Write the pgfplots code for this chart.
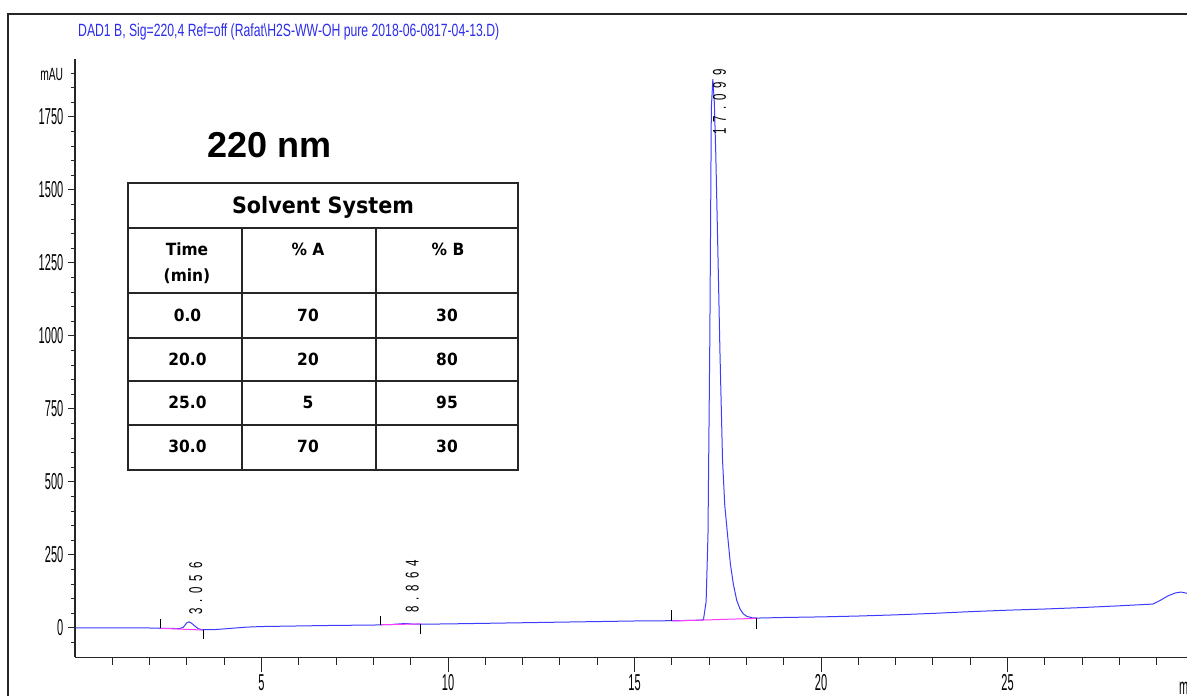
\documentclass[border=0pt]{standalone}
\usepackage{fontspec}
\setmainfont{Liberation Sans}
\usepackage{pgfplots}
\pgfplotsset{compat=1.18}
\newfontfamily\tickfont[FakeStretch=0.48]{Liberation Sans}
\newfontfamily\maufont[FakeStretch=0.58]{Liberation Sans}
\newfontfamily\titlefont[FakeStretch=0.69]{Liberation Sans}
\newfontfamily\pkfont[FakeStretch=0.62]{Liberation Sans}
\newfontfamily\tabfont[FakeStretch=0.92]{DejaVu Sans}
\definecolor{sig}{RGB}{60,60,255}
\definecolor{ttl}{RGB}{45,45,235}
\definecolor{bl}{RGB}{255,60,255}
\begin{document}
\begin{tikzpicture}[x=1pt,y=1pt]
\useasboundingbox (0,0) rectangle (1187,696);
\clip (0,0) rectangle (1187,696);
\fill[white] (0,0) rectangle (1187,696);
\draw[line width=1.1pt, black!85] (8,-10) -- (8,682) -- (1200,682);
\node[anchor=west, inner sep=0pt, text=ttl, font={\titlefont\fontsize{17.7pt}{18pt}\selectfont}] at (78,664) {DAD1 B, Sig=220,4 Ref=off (Rafat\textbackslash H2S-WW-OH pure 2018-06-0817-04-13.D)};
% axis 1: data and x ticks
\begin{axis}[at={(75pt,38.8pt)}, anchor=south west, scale only axis,
  width=1113.4pt, height=598.6pt,
  xmin=0, xmax=29.85, ymin=-100, ymax=1950,
  axis x line=bottom, axis y line=none,
  axis line style={-, black!85, line width=1.2pt},
  xtick={5,10,15,20,25}, xticklabels={5,10,15,20,25},
  minor xtick={1,2,3,4,6,7,8,9,11,12,13,14,16,17,18,19,21,22,23,24,26,27,28,29},
  ytick=\empty,
  tick align=outside, major tick length=15pt, minor tick length=7.5pt,
  tick style={black!85, line width=1pt},
  xticklabel style={font={\tickfont\fontsize{23pt}{23pt}\selectfont}, anchor=north, inner sep=0pt, yshift=-2pt},
  clip mode=individual]
\addplot[sig, line width=1pt] coordinates {
(0,0) (1,0) (2,0) (2.3,-1) (2.8,-2) (2.9,2) (3.0,18) (3.056,21) (3.12,17) (3.2,8) (3.3,-2) (3.4,-6) (3.6,-6) (3.8,-5) (4.0,-3) (4.3,0) (4.6,3) (5,5) (6,7) (6.5,8) (7,9) (8,10) (8.2,11) (8.5,12) (8.8,15) (8.9,15) (9.1,13) (9.3,13) (10,14) (11,16) (12,18) (13,20) (14,22) (15,24) (16,25) (16.5,26) (16.8,27) (16.85,30) (16.92,90) (16.97,320) (17.02,1000) (17.06,1780) (17.10,1880) (17.14,1800) (17.18,1620) (17.25,1200) (17.29,950) (17.36,575) (17.42,420) (17.49,325) (17.57,220) (17.65,150) (17.74,95) (17.83,65) (17.92,48) (18.01,40) (18.15,35) (18.3,34) (19,36) (20,38) (21,41) (22,45) (23,50) (24,56) (25,61) (26,65) (27,70) (28,76) (28.9,82) (29.1,95) (29.3,110) (29.5,120) (29.65,123) (29.85,118)};
\addplot[bl, line width=1pt] coordinates {(2.29,-1) (3.43,-7)};
\addplot[bl, line width=1pt] coordinates {(8.2,11) (9.27,14)};
\addplot[bl, line width=1pt] coordinates {(16.0,24) (18.28,33)};
\addplot[black, line width=0.8pt] coordinates {(2.29,0) (2.29,31)};
\addplot[black, line width=0.8pt] coordinates {(3.43,-7) (3.43,-38)};
\addplot[black, line width=0.8pt] coordinates {(8.2,11) (8.2,42)};
\addplot[black, line width=0.8pt] coordinates {(9.27,13) (9.27,-20)};
\addplot[black, line width=0.8pt] coordinates {(16.0,24) (16.0,60)};
\addplot[black, line width=0.8pt] coordinates {(18.28,33) (18.28,-5)};
\node[rotate=90, anchor=north west, inner sep=0pt, font={\pkfont\fontsize{18.5pt}{19pt}\selectfont}] at (axis cs:3.056,44) {3\kern6.5pt.\kern5pt0\kern6.5pt5\kern6.5pt6};
\node[rotate=90, anchor=north west, inner sep=0pt, font={\pkfont\fontsize{18.5pt}{19pt}\selectfont}] at (axis cs:8.864,51) {8\kern6.5pt.\kern5pt8\kern6.5pt6\kern6.5pt4};
\node[rotate=90, anchor=north west, inner sep=0pt, font={\pkfont\fontsize{18.5pt}{19pt}\selectfont}] at (axis cs:17.099,1688) {1\kern6.5pt7\kern6.5pt.\kern5pt0\kern6.5pt9\kern6.5pt9};
\end{axis}
% axis 2: y axis and y ticks
\begin{axis}[at={(75pt,38.8pt)}, anchor=south west, scale only axis,
  width=1113.4pt, height=598.6pt,
  xmin=0, xmax=29.85, ymin=-100, ymax=1950,
  axis x line=none, axis y line=left,
  axis line style={-, black!85, line width=1.2pt},
  xtick=\empty,
  ytick={0,250,500,750,1000,1250,1500,1750},
  yticklabels={0,250,500,750,1000,1250,1500,1750},
  minor ytick={-50,50,100,150,200,300,350,400,450,550,600,650,700,800,850,900,950,1050,1100,1150,1200,1300,1350,1400,1450,1550,1600,1650,1700,1800,1850,1900},
  tick align=outside, major tick length=7pt, minor tick length=3.5pt,
  tick style={black!85, line width=1pt},
  yticklabel style={font={\tickfont\fontsize{23pt}{23pt}\selectfont}, anchor=east, inner sep=0pt, xshift=-4.5pt}]
\end{axis}
\node[anchor=east, inner sep=0pt, font={\maufont\fontsize{17.7pt}{18pt}\selectfont}] at (63.3,621) {mAU};
\node[anchor=north west, inner sep=0pt, font={\tickfont\fontsize{23pt}{23pt}\selectfont}] at (1179,18) {min};
% 220 nm
\node[font={\bfseries\fontsize{36pt}{36pt}\selectfont}] at (270,551) {220 nm};
% table
\begin{scope}[line width=1.8pt, black!85]
\draw (128,226) rectangle (518,512.7);
\draw (128,467.7) -- (518,467.7);
\draw (128,402.7) -- (518,402.7);
\draw (128,358.3) -- (518,358.3);
\draw (128,315) -- (518,315);
\draw (128,270.7) -- (518,270.7);
\draw (242.3,226) -- (242.3,467.7);
\draw (376,226) -- (376,467.7);
\end{scope}
\begin{scope}[every node/.style={font={\tabfont\bfseries\fontsize{16.8pt}{17pt}\selectfont}, inner sep=0pt}]
\node[font={\tabfont\bfseries\fontsize{22.5pt}{22pt}\selectfont}] at (323,489) {Solvent System};
\node at (187,447) {Time};
\node at (187,420) {(min)};
\node at (308,447) {\% A};
\node at (448,447) {\% B};
\node at (187.5,381) {0.0};
\node at (308,381) {70};
\node at (447,381) {30};
\node at (187.5,337) {20.0};
\node at (308,337) {20};
\node at (447,337) {80};
\node at (187.5,293.3) {25.0};
\node at (308,293.3) {5};
\node at (447,293.3) {95};
\node at (187.5,250) {30.0};
\node at (308,250) {70};
\node at (447,250) {30};
\end{scope}
\end{tikzpicture}
\end{document}
